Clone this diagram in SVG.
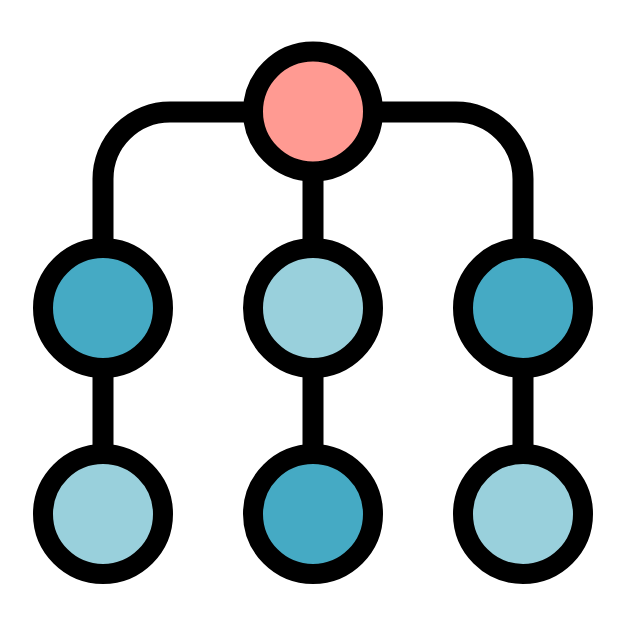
<svg xmlns="http://www.w3.org/2000/svg" width="626" height="626" viewBox="0 0 626 626">
<style>
.node{stroke:#000;stroke-width:20}
.edge{fill:none;stroke:#000;stroke-width:21}
.root{fill:#ff9a92}
.dark{fill:#45aac4}
.light{fill:#99d0dc}
</style>
<rect width="626" height="626" fill="#fff"/>
<g id="connectors">
<path class="edge" d="M103 245 V179 A67 67 0 0 1 170 112 H456 A67 67 0 0 1 523 179 V245"/>
<path class="edge" d="M313 160 V245"/>
<path class="edge" d="M103 360 V460"/>
<path class="edge" d="M313 360 V460"/>
<path class="edge" d="M523 360 V460"/>
</g>
<g id="root"><circle class="node root" cx="313" cy="111.5" r="60"/></g>
<g id="mid-left"><circle class="node dark" cx="103" cy="308" r="60"/></g>
<g id="mid-center"><circle class="node light" cx="313" cy="308" r="60"/></g>
<g id="mid-right"><circle class="node dark" cx="523" cy="308" r="60"/></g>
<g id="bottom-left"><circle class="node light" cx="103" cy="514" r="60"/></g>
<g id="bottom-center"><circle class="node dark" cx="313" cy="514" r="60"/></g>
<g id="bottom-right"><circle class="node light" cx="523" cy="514" r="60"/></g>
</svg>
